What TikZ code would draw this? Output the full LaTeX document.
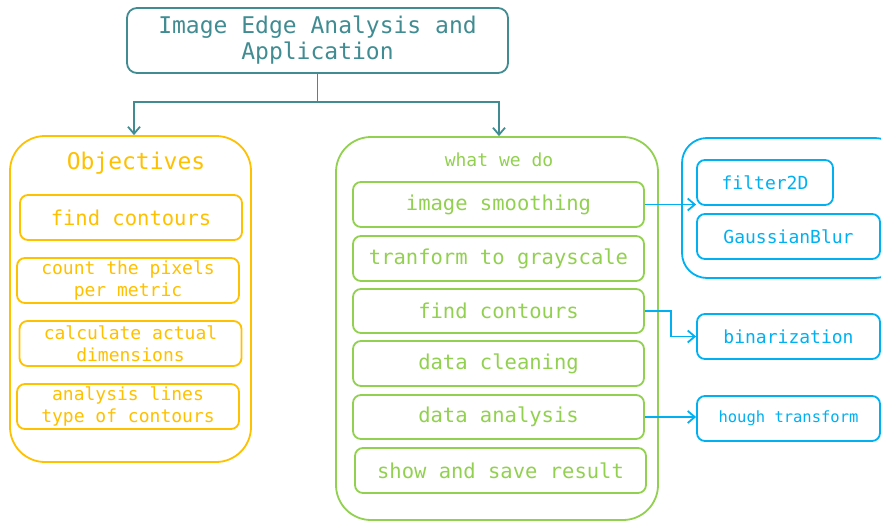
\documentclass[tikz,border=0pt]{standalone}
\usepackage{fontspec}
\setmonofont{DejaVu Sans Mono}
\usetikzlibrary{arrows.meta,positioning}
\definecolor{tealc}{RGB}{64,140,146}
\definecolor{objc}{RGB}{255,192,0}
\definecolor{wwdc}{RGB}{146,208,80}
\definecolor{bluec}{RGB}{0,176,240}

\begin{document}
\begin{tikzpicture}[x=1pt,y=-1pt,
    box/.style={draw, line width=1.8pt, rounded corners=8pt, align=center, inner sep=0pt},
    big/.style={font=\ttfamily\fontsize{23}{26}\selectfont},
    mid/.style={font=\ttfamily\fontsize{20.5}{24}\selectfont},
    small/.style={font=\ttfamily\fontsize{18}{22}\selectfont},
    objbox/.style={box, draw=objc, text=objc, minimum width=222pt, minimum height=45pt},
    wwdbox/.style={box, draw=wwdc, text=wwdc, minimum width=291pt, minimum height=45pt, mid},
    bluebox/.style={box, draw=bluec, text=bluec, minimum width=183pt, minimum height=45pt, small},
    tarrow/.style={draw=tealc, line width=1.8pt, -{Straight Barb[length=7pt,width=12pt]}},
    barrow/.style={draw=bluec, line width=1.8pt, -{Straight Barb[length=7pt,width=12pt]}}]
%      \draw [help lines] (0,0) grid [step=50] (881,522);
      \useasboundingbox (0,0) rectangle (881,522);

      % title
      \node [box, draw=tealc, text=tealc, big, rounded corners=10pt,
             minimum width=381pt, minimum height=65pt] (title) at (317.5,40.5)
             {Image Edge Analysis and\\Application};

      % objectives
      \node [box, draw=objc, rounded corners=35pt, minimum width=241pt, minimum height=326pt] (obj) at (130.5,299) {};
      \node [text=objc, big] (objlabel) at (136,163) {Objectives};
      \node [objbox, mid] (o1) at (131,217.5) {find contours};
      \node [objbox, small] (o2) at (128,280.5) {count the pixels\\per metric};
      \node [objbox, small] (o3) at (130.5,343.5) {calculate actual\\dimensions};
      \node [objbox, small] (o4) at (128,406.5) {analysis lines\\type of contours};

      % what we do
      \node [box, draw=wwdc, rounded corners=35pt, minimum width=322pt, minimum height=383pt] (wwd) at (497,328.5) {};
      \node [text=wwdc, small] (wwdlabel) at (499,160) {what we do};
      \node [wwdbox] (g1) at (498.5,204.5) {image smoothing};
      \node [wwdbox] (g2) at (498.5,258.5) {tranform to grayscale};
      \node [wwdbox, minimum height=44pt] (g3) at (498.5,311) {find contours};
      \node [wwdbox] (g4) at (498.5,363.5) {data cleaning};
      \node [wwdbox, minimum height=44pt] (g5) at (498.5,417) {data analysis};
      \node [wwdbox] (g6) at (500.5,470.5) {show and save result};

      % methods
      \node [box, draw=bluec, rounded corners=25pt, minimum width=218pt, minimum height=140pt] (blur) at (791,208) {};
      \node [bluebox, minimum width=136pt] (filter) at (765,182.5) {filter2D};
      \node [bluebox] (gauss) at (788.5,236.5) {GaussianBlur};
      \node [bluebox] (bin) at (788.5,336.5) {binarization};
      \node [bluebox, font=\ttfamily\fontsize{15.5}{18}\selectfont] (hough) at (788.5,418.5) {hough transform};

      % connectors
      \coordinate (split) at (title.south |- 0,102);
      \draw [tarrow] (title.south) -- (split) -| ([xshift=3.5]obj.north);
      \draw [tarrow] (split) -| ([xshift=2]wwd.north);
      \draw [barrow] (g1.east) -- (g1.east -| filter.west);
      \draw [barrow] (g3.east) -- ++(26,0) |- (bin.west);
      \draw [barrow] (g5.east) -- (g5.east -| hough.west);

    \end{tikzpicture}
\end{document}
